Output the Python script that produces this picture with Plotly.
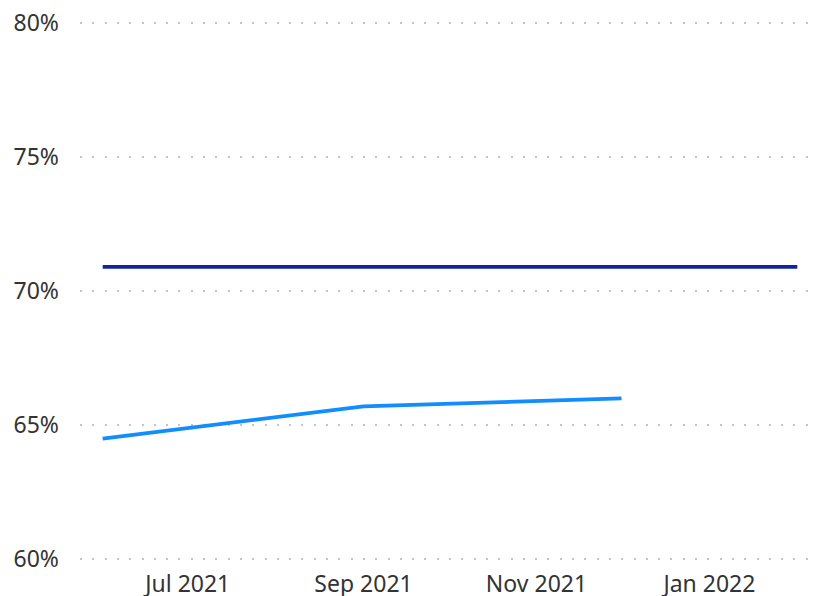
import plotly.graph_objects as go

# 데이터
actual_dates = ['2021-06-01', '2021-09-01', '2021-12-01']
actual_values = [0.645, 0.657, 0.660]

target_dates = ['2021-06-01', '2021-07-01', '2021-08-01', '2021-09-01', '2021-10-01',
                '2021-11-01', '2021-12-01', '2022-01-01', '2022-02-01']
target_values = [0.709, 0.709, 0.709, 0.709, 0.709, 0.709, 0.709, 0.709, 0.709]

fig = go.Figure()

fig.add_trace(go.Scatter(x=target_dates, y=target_values, mode='lines',
                         line=dict(color='#12239E', width=3.8), name='Target'))
fig.add_trace(go.Scatter(x=actual_dates, y=actual_values, mode='lines',
                         line=dict(color='#118DFF', width=3.8), name='Actual'))

# 페이지 여백(8px)만큼 보정
fig.update_layout(width=812, height=588,
                  margin=dict(l=72, r=0, t=12, b=34),
                  paper_bgcolor='white',
                  plot_bgcolor='white',
                  showlegend=False,
                  font=dict(family='Noto Sans', size=23, color='#333333'))

fig.update_xaxes(range=['2021-05-24', '2022-02-09'],
                 tick0='2021-07-01', dtick='M2', tickformat='%b %Y',
                 showgrid=False, showline=False, zeroline=False, automargin=False,
                 ticks='', ticklabelstandoff=6, ticklabeloverflow='allow')

fig.update_yaxes(range=[0.599, 0.801], dtick=0.05, tickformat='.0%',
                 showgrid=True, gridcolor='#C4C4C4', gridwidth=1.5, griddash='2px,10.3px',
                 showline=False, zeroline=False, automargin=False,
                 ticks='', ticklabelstandoff=20, ticklabeloverflow='allow')

fig.write_html('out.html')
